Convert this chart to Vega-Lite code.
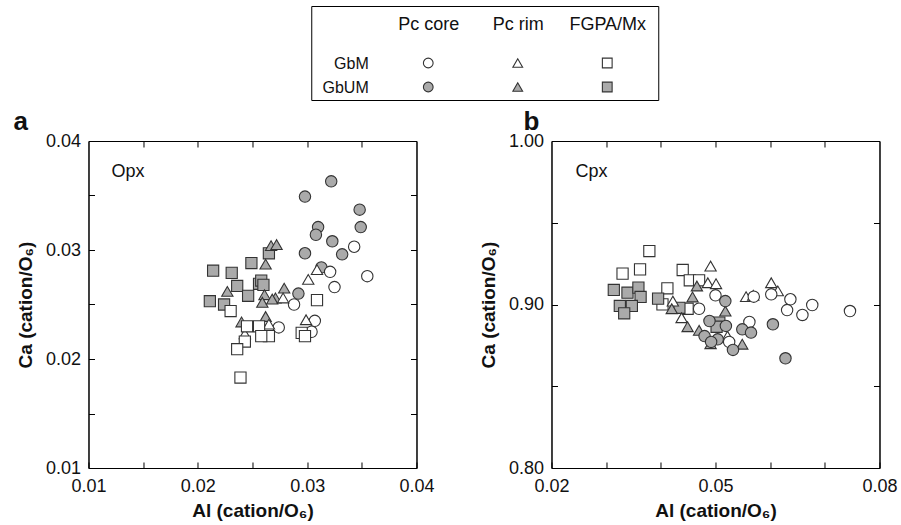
{
  "$schema": "https://vega.github.io/schema/vega-lite/v6.json",
  "padding": {"left": 12, "top": 5, "right": 0, "bottom": 0},
  "background": "#ffffff",
  "config": {
    "font": "Liberation Sans",
    "view": {"stroke": "#000000", "strokeWidth": 1},
    "axis": {
      "grid": false,
      "domainColor": "#000000",
      "tickColor": "#000000",
      "labelFont": "Liberation Sans",
      "labelFontSize": 18,
      "labelColor": "#111111",
      "titleFont": "Liberation Sans",
      "titleFontSize": 19,
      "titleFontWeight": "bold",
      "titleColor": "#111111",
      "labelOverlap": false,
      "labelFlush": false
    },
    "title": {"font": "Liberation Sans", "fontSize": 26, "fontWeight": "bold", "color": "#111111", "anchor": "start", "frame": "group", "offset": -3}
  },
  "datasets": {
    "opx": [
      {"al": 0.0249, "ca": 0.0288, "grp": "GbUM", "type": "FGPA/Mx"},
      {"al": 0.0214, "ca": 0.0281, "grp": "GbUM", "type": "FGPA/Mx"},
      {"al": 0.0231, "ca": 0.0279, "grp": "GbUM", "type": "FGPA/Mx"},
      {"al": 0.0236, "ca": 0.0267, "grp": "GbUM", "type": "FGPA/Mx"},
      {"al": 0.0246, "ca": 0.0258, "grp": "GbUM", "type": "FGPA/Mx"},
      {"al": 0.0211, "ca": 0.0253, "grp": "GbUM", "type": "FGPA/Mx"},
      {"al": 0.0224, "ca": 0.0250, "grp": "GbUM", "type": "FGPA/Mx"},
      {"al": 0.0256, "ca": 0.0269, "grp": "GbUM", "type": "FGPA/Mx"},
      {"al": 0.0258, "ca": 0.0272, "grp": "GbUM", "type": "FGPA/Mx"},
      {"al": 0.0265, "ca": 0.0297, "grp": "GbUM", "type": "FGPA/Mx"},
      {"al": 0.0260, "ca": 0.0268, "grp": "GbUM", "type": "FGPA/Mx"},
      {"al": 0.0267, "ca": 0.0304, "grp": "GbUM", "type": "Pc rim"},
      {"al": 0.0272, "ca": 0.0305, "grp": "GbUM", "type": "Pc rim"},
      {"al": 0.0262, "ca": 0.0287, "grp": "GbUM", "type": "Pc rim"},
      {"al": 0.0227, "ca": 0.0262, "grp": "GbUM", "type": "Pc rim"},
      {"al": 0.0261, "ca": 0.0259, "grp": "GbUM", "type": "Pc rim"},
      {"al": 0.0259, "ca": 0.0252, "grp": "GbUM", "type": "Pc rim"},
      {"al": 0.0240, "ca": 0.0234, "grp": "GbUM", "type": "Pc rim"},
      {"al": 0.0262, "ca": 0.0239, "grp": "GbUM", "type": "Pc rim"},
      {"al": 0.0279, "ca": 0.0265, "grp": "GbUM", "type": "Pc rim"},
      {"al": 0.0271, "ca": 0.0256, "grp": "GbUM", "type": "Pc rim"},
      {"al": 0.0268, "ca": 0.0255, "grp": "GbUM", "type": "Pc rim"},
      {"al": 0.0322, "ca": 0.0363, "grp": "GbUM", "type": "Pc core"},
      {"al": 0.0298, "ca": 0.0349, "grp": "GbUM", "type": "Pc core"},
      {"al": 0.0348, "ca": 0.0337, "grp": "GbUM", "type": "Pc core"},
      {"al": 0.0310, "ca": 0.0321, "grp": "GbUM", "type": "Pc core"},
      {"al": 0.0349, "ca": 0.0321, "grp": "GbUM", "type": "Pc core"},
      {"al": 0.0308, "ca": 0.0314, "grp": "GbUM", "type": "Pc core"},
      {"al": 0.0323, "ca": 0.0308, "grp": "GbUM", "type": "Pc core"},
      {"al": 0.0332, "ca": 0.0296, "grp": "GbUM", "type": "Pc core"},
      {"al": 0.0298, "ca": 0.0297, "grp": "GbUM", "type": "Pc core"},
      {"al": 0.0313, "ca": 0.0284, "grp": "GbUM", "type": "Pc core"},
      {"al": 0.0292, "ca": 0.0260, "grp": "GbUM", "type": "Pc core"},
      {"al": 0.0343, "ca": 0.0303, "grp": "GbM", "type": "Pc core"},
      {"al": 0.0321, "ca": 0.0280, "grp": "GbM", "type": "Pc core"},
      {"al": 0.0355, "ca": 0.0276, "grp": "GbM", "type": "Pc core"},
      {"al": 0.0325, "ca": 0.0266, "grp": "GbM", "type": "Pc core"},
      {"al": 0.0288, "ca": 0.0250, "grp": "GbM", "type": "Pc core"},
      {"al": 0.0307, "ca": 0.0235, "grp": "GbM", "type": "Pc core"},
      {"al": 0.0304, "ca": 0.0225, "grp": "GbM", "type": "Pc core"},
      {"al": 0.0274, "ca": 0.0229, "grp": "GbM", "type": "Pc core"},
      {"al": 0.0278, "ca": 0.0256, "grp": "GbM", "type": "Pc rim"},
      {"al": 0.0301, "ca": 0.0273, "grp": "GbM", "type": "Pc rim"},
      {"al": 0.0309, "ca": 0.0282, "grp": "GbM", "type": "Pc rim"},
      {"al": 0.0299, "ca": 0.0236, "grp": "GbM", "type": "Pc rim"},
      {"al": 0.0243, "ca": 0.0223, "grp": "GbM", "type": "Pc rim"},
      {"al": 0.0265, "ca": 0.0232, "grp": "GbM", "type": "Pc rim"},
      {"al": 0.0309, "ca": 0.0254, "grp": "GbM", "type": "FGPA/Mx"},
      {"al": 0.0295, "ca": 0.0224, "grp": "GbM", "type": "FGPA/Mx"},
      {"al": 0.0298, "ca": 0.0221, "grp": "GbM", "type": "FGPA/Mx"},
      {"al": 0.0265, "ca": 0.0221, "grp": "GbM", "type": "FGPA/Mx"},
      {"al": 0.0230, "ca": 0.0244, "grp": "GbM", "type": "FGPA/Mx"},
      {"al": 0.0245, "ca": 0.0230, "grp": "GbM", "type": "FGPA/Mx"},
      {"al": 0.0256, "ca": 0.0230, "grp": "GbM", "type": "FGPA/Mx"},
      {"al": 0.0258, "ca": 0.0221, "grp": "GbM", "type": "FGPA/Mx"},
      {"al": 0.0243, "ca": 0.0216, "grp": "GbM", "type": "FGPA/Mx"},
      {"al": 0.0236, "ca": 0.0209, "grp": "GbM", "type": "FGPA/Mx"},
      {"al": 0.0239, "ca": 0.0183, "grp": "GbM", "type": "FGPA/Mx"}
    ],
    "cpx": [
      {"al": 0.0379, "ca": 0.9327, "grp": "GbM", "type": "FGPA/Mx"},
      {"al": 0.0362, "ca": 0.9215, "grp": "GbM", "type": "FGPA/Mx"},
      {"al": 0.0330, "ca": 0.9189, "grp": "GbM", "type": "FGPA/Mx"},
      {"al": 0.0412, "ca": 0.9099, "grp": "GbM", "type": "FGPA/Mx"},
      {"al": 0.0403, "ca": 0.9001, "grp": "GbM", "type": "FGPA/Mx"},
      {"al": 0.0440, "ca": 0.9211, "grp": "GbM", "type": "FGPA/Mx"},
      {"al": 0.0453, "ca": 0.9148, "grp": "GbM", "type": "FGPA/Mx"},
      {"al": 0.0470, "ca": 0.9148, "grp": "GbM", "type": "FGPA/Mx"},
      {"al": 0.0449, "ca": 0.8974, "grp": "GbM", "type": "FGPA/Mx"},
      {"al": 0.0314, "ca": 0.9089, "grp": "GbUM", "type": "FGPA/Mx"},
      {"al": 0.0339, "ca": 0.9072, "grp": "GbUM", "type": "FGPA/Mx"},
      {"al": 0.0359, "ca": 0.9103, "grp": "GbUM", "type": "FGPA/Mx"},
      {"al": 0.0363, "ca": 0.9046, "grp": "GbUM", "type": "FGPA/Mx"},
      {"al": 0.0325, "ca": 0.8991, "grp": "GbUM", "type": "FGPA/Mx"},
      {"al": 0.0347, "ca": 0.8991, "grp": "GbUM", "type": "FGPA/Mx"},
      {"al": 0.0333, "ca": 0.8946, "grp": "GbUM", "type": "FGPA/Mx"},
      {"al": 0.0395, "ca": 0.9036, "grp": "GbUM", "type": "FGPA/Mx"},
      {"al": 0.0434, "ca": 0.8980, "grp": "GbUM", "type": "FGPA/Mx"},
      {"al": 0.0507, "ca": 0.8889, "grp": "GbUM", "type": "FGPA/Mx"},
      {"al": 0.0502, "ca": 0.8864, "grp": "GbUM", "type": "FGPA/Mx"},
      {"al": 0.0491, "ca": 0.9235, "grp": "GbM", "type": "Pc rim"},
      {"al": 0.0486, "ca": 0.9133, "grp": "GbM", "type": "Pc rim"},
      {"al": 0.0501, "ca": 0.9127, "grp": "GbM", "type": "Pc rim"},
      {"al": 0.0556, "ca": 0.9048, "grp": "GbM", "type": "Pc rim"},
      {"al": 0.0569, "ca": 0.9056, "grp": "GbM", "type": "Pc rim"},
      {"al": 0.0422, "ca": 0.9021, "grp": "GbM", "type": "Pc rim"},
      {"al": 0.0438, "ca": 0.8919, "grp": "GbM", "type": "Pc rim"},
      {"al": 0.0522, "ca": 0.8807, "grp": "GbM", "type": "Pc rim"},
      {"al": 0.0602, "ca": 0.9133, "grp": "GbM", "type": "Pc rim"},
      {"al": 0.0614, "ca": 0.9083, "grp": "GbM", "type": "Pc rim"},
      {"al": 0.0466, "ca": 0.9113, "grp": "GbUM", "type": "Pc rim"},
      {"al": 0.0458, "ca": 0.9046, "grp": "GbUM", "type": "Pc rim"},
      {"al": 0.0420, "ca": 0.8974, "grp": "GbUM", "type": "Pc rim"},
      {"al": 0.0449, "ca": 0.8864, "grp": "GbUM", "type": "Pc rim"},
      {"al": 0.0470, "ca": 0.8842, "grp": "GbUM", "type": "Pc rim"},
      {"al": 0.0491, "ca": 0.8760, "grp": "GbUM", "type": "Pc rim"},
      {"al": 0.0518, "ca": 0.8960, "grp": "GbUM", "type": "Pc rim"},
      {"al": 0.0549, "ca": 0.8757, "grp": "GbUM", "type": "Pc rim"},
      {"al": 0.0500, "ca": 0.9056, "grp": "GbM", "type": "Pc core"},
      {"al": 0.0470, "ca": 0.8974, "grp": "GbM", "type": "Pc core"},
      {"al": 0.0570, "ca": 0.9048, "grp": "GbM", "type": "Pc core"},
      {"al": 0.0562, "ca": 0.8893, "grp": "GbM", "type": "Pc core"},
      {"al": 0.0525, "ca": 0.8771, "grp": "GbM", "type": "Pc core"},
      {"al": 0.0602, "ca": 0.9062, "grp": "GbM", "type": "Pc core"},
      {"al": 0.0637, "ca": 0.9032, "grp": "GbM", "type": "Pc core"},
      {"al": 0.0631, "ca": 0.8966, "grp": "GbM", "type": "Pc core"},
      {"al": 0.0677, "ca": 0.8997, "grp": "GbM", "type": "Pc core"},
      {"al": 0.0659, "ca": 0.8936, "grp": "GbM", "type": "Pc core"},
      {"al": 0.0746, "ca": 0.8960, "grp": "GbM", "type": "Pc core"},
      {"al": 0.0518, "ca": 0.9021, "grp": "GbUM", "type": "Pc core"},
      {"al": 0.0489, "ca": 0.8899, "grp": "GbUM", "type": "Pc core"},
      {"al": 0.0519, "ca": 0.8869, "grp": "GbUM", "type": "Pc core"},
      {"al": 0.0480, "ca": 0.8807, "grp": "GbUM", "type": "Pc core"},
      {"al": 0.0504, "ca": 0.8787, "grp": "GbUM", "type": "Pc core"},
      {"al": 0.0549, "ca": 0.8848, "grp": "GbUM", "type": "Pc core"},
      {"al": 0.0565, "ca": 0.8828, "grp": "GbUM", "type": "Pc core"},
      {"al": 0.0532, "ca": 0.8722, "grp": "GbUM", "type": "Pc core"},
      {"al": 0.0492, "ca": 0.8771, "grp": "GbUM", "type": "Pc core"},
      {"al": 0.0605, "ca": 0.8879, "grp": "GbUM", "type": "Pc core"},
      {"al": 0.0628, "ca": 0.8671, "grp": "GbUM", "type": "Pc core"}
    ],
    "leg": [
      {"grp": "GbM", "type": "Pc core"},
      {"grp": "GbM", "type": "Pc rim"},
      {"grp": "GbM", "type": "FGPA/Mx"},
      {"grp": "GbUM", "type": "Pc core"},
      {"grp": "GbUM", "type": "Pc rim"},
      {"grp": "GbUM", "type": "FGPA/Mx"}
    ],
    "opxlab": [{"label": "Opx"}],
    "cpxlab": [{"label": "Cpx"}]
  },
  "vconcat": [
    {
      "width": 347,
      "height": 94,
      "data": {"name": "leg"},
      "mark": {"type": "point", "filled": true, "stroke": "#333333", "strokeWidth": 1.1, "opacity": 1, "size": 95},
      "encoding": {
        "x": {"field": "type", "type": "nominal", "scale": {"domain": ["Pc core", "Pc rim", "FGPA/Mx"], "range": [117, 296], "padding": 0},
              "axis": {"orient": "top", "offset": -27, "ticks": false, "domain": false, "labelPadding": 0, "labelAngle": 0, "title": null, "labelFontSize": 18}},
        "y": {"field": "grp", "type": "nominal", "scale": {"domain": ["GbM", "GbUM"], "range": [57, 81], "padding": 0},
              "axis": {"orient": "right", "offset": -290, "ticks": false, "domain": false, "labelPadding": 0, "labelAlign": "right", "title": null, "labelFontSize": 16, "minExtent": 306, "maxExtent": 400}},
        "shape": {"field": "type", "type": "nominal", "scale": {"domain": ["Pc core", "Pc rim", "FGPA/Mx"], "range": ["circle", "triangle-up", "square"]}, "legend": null},
        "fill": {"field": "grp", "type": "nominal", "scale": {"domain": ["GbM", "GbUM"], "range": ["#ffffff", "#aaaaaa"]}, "legend": null}
      }
    },
    {
      "hconcat": [
        {
          "width": 328,
          "height": 327,
          "title": {"text": "a", "dx": -75},
          "layer": [
            {
              "data": {"name": "opx"},
              "mark": {"type": "point", "filled": true, "stroke": "#333333", "strokeWidth": 1.1, "opacity": 1},
              "encoding": {
                "x": {"field": "al", "type": "quantitative", "scale": {"domain": [0.01, 0.04], "nice": false, "zero": false},
                      "axis": {"orient": "bottom", "values": [0.01, 0.015, 0.02, 0.025, 0.03, 0.035, 0.04], "labelExpr": "abs(datum.value*100 - round(datum.value*100)) < 0.01 ? format(datum.value, '.2f') : ''", "tickSize": -6, "labelPadding": 15, "title": "Al (cation/O₆)", "titlePadding": 6}},
                "y": {"field": "ca", "type": "quantitative", "scale": {"domain": [0.01, 0.04], "nice": false, "zero": false},
                      "axis": {"orient": "left", "values": [0.01, 0.015, 0.02, 0.025, 0.03, 0.035, 0.04], "labelExpr": "abs(datum.value*100 - round(datum.value*100)) < 0.01 ? format(datum.value, '.2f') : ''", "tickSize": -6, "labelPadding": 14, "title": "Ca (cation/O₆)", "titlePadding": 10}},
                "shape": {"field": "type", "type": "nominal", "scale": {"domain": ["Pc core", "Pc rim", "FGPA/Mx"], "range": ["circle", "triangle-up", "square"]}, "legend": null},
                "fill": {"field": "grp", "type": "nominal", "scale": {"domain": ["GbM", "GbUM"], "range": ["#ffffff", "#aaaaaa"]}, "legend": null},
                "size": {"field": "type", "type": "nominal", "scale": {"domain": ["Pc core", "Pc rim", "FGPA/Mx"], "range": [130, 125, 110]}, "legend": null}
              }
            },
            {
              "data": {"name": "opxlab"},
              "mark": {"type": "text", "align": "left", "baseline": "middle", "fontSize": 18, "color": "#111111"},
              "encoding": {
                "x": {"datum": 0.0121, "type": "quantitative", "axis": {"orient": "top", "values": [0.015, 0.02, 0.025, 0.03, 0.035], "labels": false, "tickSize": -6, "title": null}},
                "y": {"datum": 0.0372, "type": "quantitative", "axis": {"orient": "right", "values": [0.015, 0.02, 0.025, 0.03, 0.035], "labels": false, "tickSize": -6, "title": null, "minExtent": 0}},
                "text": {"field": "label"}
              }
            }
          ],
          "resolve": {"axis": {"x": "independent", "y": "independent"}}
        },
        {
          "width": 328,
          "height": 327,
          "title": {"text": "b", "dx": -28},
          "layer": [
            {
              "data": {"name": "cpx"},
              "mark": {"type": "point", "filled": true, "stroke": "#333333", "strokeWidth": 1.1, "opacity": 1},
              "encoding": {
                "x": {"field": "al", "type": "quantitative", "scale": {"domain": [0.02, 0.08], "nice": false, "zero": false},
                      "axis": {"orient": "bottom", "values": [0.02, 0.03, 0.04, 0.05, 0.06, 0.07, 0.08], "labelExpr": "(abs(datum.value-0.02) < 0.001 || abs(datum.value-0.05) < 0.001 || abs(datum.value-0.08) < 0.001) ? format(datum.value, '.2f') : ''", "tickSize": -6, "labelPadding": 15, "title": "Al (cation/O₆)", "titlePadding": 6}},
                "y": {"field": "ca", "type": "quantitative", "scale": {"domain": [0.8, 1.0], "nice": false, "zero": false},
                      "axis": {"orient": "left", "values": [0.8, 0.85, 0.9, 0.95, 1.0], "labelExpr": "abs(datum.value*10 - round(datum.value*10)) < 0.01 ? format(datum.value, '.2f') : ''", "tickSize": -6, "labelPadding": 14, "title": "Ca (cation/O₆)", "titlePadding": 10}},
                "shape": {"field": "type", "type": "nominal", "scale": {"domain": ["Pc core", "Pc rim", "FGPA/Mx"], "range": ["circle", "triangle-up", "square"]}, "legend": null},
                "fill": {"field": "grp", "type": "nominal", "scale": {"domain": ["GbM", "GbUM"], "range": ["#ffffff", "#aaaaaa"]}, "legend": null},
                "size": {"field": "type", "type": "nominal", "scale": {"domain": ["Pc core", "Pc rim", "FGPA/Mx"], "range": [130, 125, 110]}, "legend": null}
              }
            },
            {
              "data": {"name": "cpxlab"},
              "mark": {"type": "text", "align": "left", "baseline": "middle", "fontSize": 18, "color": "#111111"},
              "encoding": {
                "x": {"datum": 0.0244, "type": "quantitative", "axis": {"orient": "top", "values": [0.03, 0.04, 0.05, 0.06, 0.07], "labels": false, "tickSize": -6, "title": null}},
                "y": {"datum": 0.981, "type": "quantitative", "axis": {"orient": "right", "values": [0.85, 0.9, 0.95], "labels": false, "tickSize": -6, "title": null, "minExtent": 0}},
                "text": {"field": "label"}
              }
            }
          ],
          "resolve": {"axis": {"x": "independent", "y": "independent"}}
        }
      ],
      "spacing": 43
    }
  ],
  "spacing": 7,
  "center": true
}
